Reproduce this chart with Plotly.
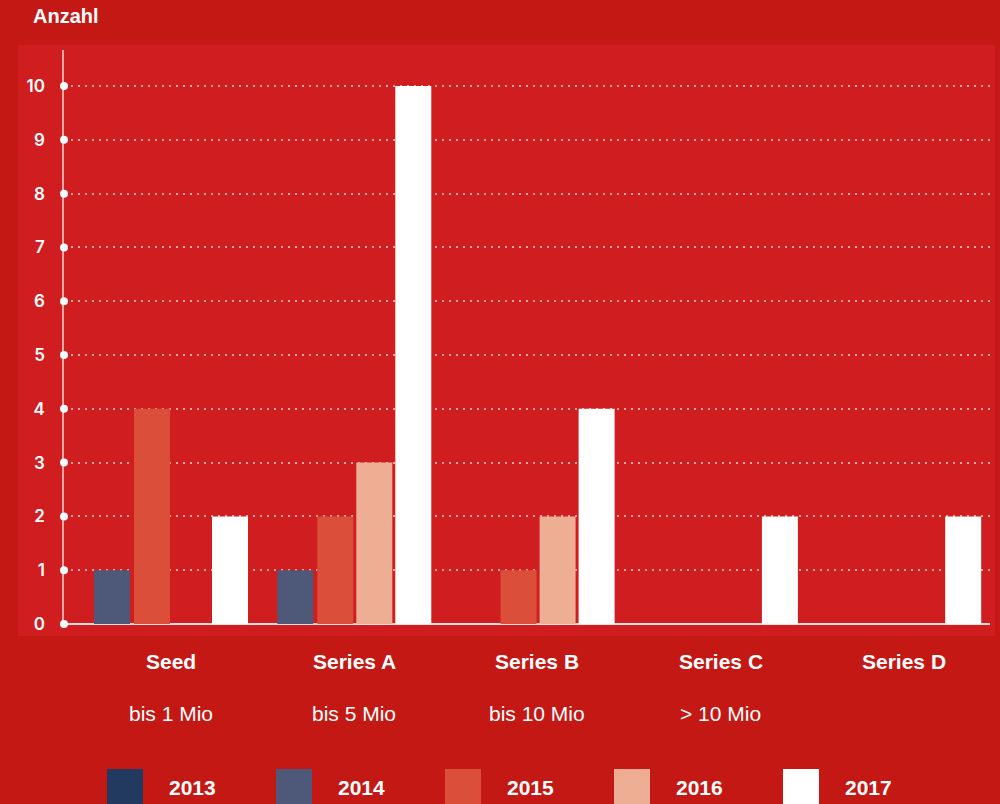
import plotly.graph_objects as go

# ---- data ----
categories = ["Seed", "Series A", "Series B", "Series C", "Series D"]
subtitles = ["bis 1 Mio", "bis 5 Mio", "bis 10 Mio", "> 10 Mio", ""]
years = ["2013", "2014", "2015", "2016", "2017"]
v2013 = [0, 0, 0, 0, 0]
v2014 = [1, 1, 0, 0, 0]
v2015 = [4, 2, 1, 0, 0]
v2016 = [0, 3, 2, 0, 0]
v2017 = [2, 10, 4, 2, 2]
y_ticks = [0, 1, 2, 3, 4, 5, 6, 7, 8, 9, 10]

series = [v2013, v2014, v2015, v2016, v2017]
colors = ["#233A60", "#4E5878", "#DB4F3A", "#EEAE94", "#FFFFFF"]

OUTER = "#C41814"
PANEL = "#D01D20"

# layout geometry (pixels)
W, H = 1000, 804
L, R, T, B = 64, 10, 50, 180
pw = W - L - R
ph = H - T - B
unit = 183.3  # px per category
x_lo = -(152 - L) / unit
x_hi = x_lo + pw / unit
bar_w = 36 / unit
offsets_px = [-97, -58, -18, 21, 60]

def px_x(px):
    return (px - L) / pw

def px_y(py):
    return 1 - (py - T) / ph

fig = go.Figure()
xs = list(range(len(categories)))
for i, (yr, vals) in enumerate(zip(years, series)):
    fig.add_trace(go.Bar(
        x=xs, y=vals, name=yr,
        width=bar_w, offset=offsets_px[i] / unit,
        marker=dict(color=colors[i], line=dict(width=0)),
        showlegend=False,
    ))

# tick dots on the y axis
fig.add_trace(go.Scatter(
    x=[x_lo] * len(y_ticks), y=y_ticks, mode="markers",
    marker=dict(color="white", size=8), cliponaxis=False,
    showlegend=False, hoverinfo="skip",
))

shapes = [
    dict(type="rect", xref="paper", yref="paper",
         x0=px_x(18), x1=px_x(995), y0=px_y(636), y1=px_y(45),
         fillcolor=PANEL, line=dict(width=0), layer="below"),
]
annotations = [
    dict(text="<b>Anzahl</b>", xref="paper", yref="paper",
         x=px_x(31), y=px_y(16), xanchor="left", yanchor="middle",
         showarrow=False, font=dict(family="Liberation Sans, Arial", size=20, color="white")),
]
for i, (c, s) in enumerate(zip(categories, subtitles)):
    annotations.append(dict(text=f"<b>{c}</b>", x=i + 0.103, xref="x", yref="paper",
                            y=px_y(661), xanchor="center", yanchor="middle", showarrow=False,
                            font=dict(family="Liberation Sans, Arial", size=21, color="white")))
    if s:
        annotations.append(dict(text=s, x=i + 0.103, xref="x", yref="paper",
                                y=px_y(713), xanchor="center", yanchor="middle", showarrow=False,
                                font=dict(family="Liberation Sans, Arial", size=21, color="white")))

# manual legend with large squares
for i, (yr, col) in enumerate(zip(years, colors)):
    x0 = 107 + i * 169
    shapes.append(dict(type="rect", xref="paper", yref="paper",
                       x0=px_x(x0), x1=px_x(x0 + 36), y0=px_y(830), y1=px_y(769),
                       fillcolor=col, line=dict(width=0)))
    annotations.append(dict(text=f"<b>{yr}</b>", xref="paper", yref="paper",
                            x=px_x(x0 + 85), y=px_y(787), xanchor="center", yanchor="middle",
                            showarrow=False,
                            font=dict(family="Liberation Sans, Arial", size=21, color="white")))

fig.update_layout(
    width=W, height=H,
    margin=dict(l=L, r=R, t=T, b=B),
    paper_bgcolor=OUTER, plot_bgcolor="rgba(0,0,0,0)",
    barmode="overlay",
    shapes=shapes, annotations=annotations,
    showlegend=False,
    xaxis=dict(range=[x_lo, x_hi], showticklabels=False, showgrid=False,
               zeroline=False, showline=False, ticks=""),
    yaxis=dict(range=[0, 10.67], tickvals=y_ticks, ticks="",
               showgrid=True, gridcolor="rgba(255,255,255,0.6)", gridwidth=2, griddash="2px,5px",
               zeroline=True, zerolinecolor="rgba(255,255,255,0.85)", zerolinewidth=1.5,
               showline=True, linecolor="rgba(255,255,255,0.6)", linewidth=1.5,
               ticklabelstandoff=14,
               tickfont=dict(family="Inter", size=17, color="white", weight=600)),
)

fig.write_html("out.html", config={"displayModeBar": False},
               post_script="document.body.style.margin='0';document.body.style.overflow='hidden';")
